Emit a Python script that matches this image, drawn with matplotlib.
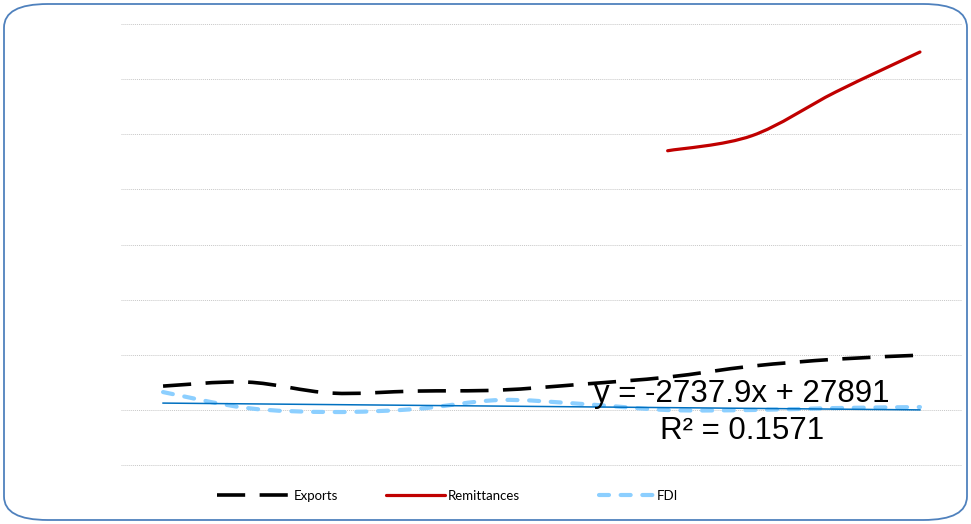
import matplotlib.pyplot as plt
import numpy as np
from matplotlib.lines import Line2D
from matplotlib.patches import FancyBboxPatch, PathPatch
from matplotlib.path import Path

periods = [1, 2, 3, 4, 5, 6, 7, 8, 9, 10]
exports = [86800, 101300, 61500, 68700, 72300, 94000, 119300, 159100, 184400, 198900]
remit_periods = [7, 8, 9, 10]
remittances = [940300, 994600, 1153700, 1298400]
fdi = [65100, 7200, -7200, 3600, 36200, 21700, 0, 0, 7200, 10800]

# linear trend on FDI as reported
slope = -2737.9
intercept = 27891
r2 = 0.1571

yticks = np.arange(-200000, 1400001, 200000)


def smooth_path(xs, ys):
    """Cubic Bezier path through the points (spreadsheet-style smoothing)."""
    pts = np.column_stack([xs, ys]).astype(float)
    n = len(pts)
    verts = [pts[0]]
    codes = [Path.MOVETO]
    for i in range(n - 1):
        p0 = pts[max(i - 1, 0)]
        p1 = pts[i]
        p2 = pts[i + 1]
        p3 = pts[min(i + 2, n - 1)]
        verts += [p1 + (p2 - p0) / 6, p2 - (p3 - p1) / 6, p2]
        codes += [Path.CURVE4] * 3
    return Path(verts, codes)


styles = {
    'Exports': dict(color='black', lw=2.6, ls=(0, (7.8, 4.0)), capstyle='butt'),
    'Remittances': dict(color='#c00000', lw=2.3, ls='-', capstyle='round'),
    'FDI': dict(color='#8ccfff', lw=3.0, ls=(0, (2.4, 2.8)), capstyle='round'),
}

fig = plt.figure(figsize=(9.71, 5.24), dpi=100)
frame = FancyBboxPatch((4 / 971, 4 / 524), 963 / 971, 516 / 524,
                       boxstyle='round,pad=0,rounding_size=0.045',
                       transform=fig.transFigure, facecolor='none',
                       edgecolor='#4f81bd', lw=1.3, zorder=-1)
fig.patches.append(frame)

ax = fig.add_axes([121 / 971, 58 / 524, 841 / 971, 442 / 524])
ax.set_facecolor('none')
ax.set_xlim(0.5, 10.5)
ax.set_ylim(yticks[0] - 3000, yticks[-1])
ax.set_yticks(yticks)
ax.set_xticks([])
ax.tick_params(left=False, labelleft=False)
for s in ax.spines.values():
    s.set_visible(False)
ax.yaxis.grid(True, color='#c8c8c8', lw=0.7, ls=(0, (1, 1)))

series = [('Exports', periods, exports), ('Remittances', remit_periods, remittances), ('FDI', periods, fdi)]
for name, xs, ys in series:
    st = styles[name]
    patch = PathPatch(smooth_path(xs, ys), fill=False, edgecolor=st['color'],
                      lw=st['lw'], linestyle=st['ls'], capstyle=st['capstyle'],
                      joinstyle='round', zorder=3)
    ax.add_patch(patch)

tx = np.array([periods[0], periods[-1]])
ax.plot(tx, slope * tx + intercept, color='#0070c0', lw=1.1, zorder=4)

ax.text(7.88, -9000, 'y = -2737.9x + 27891\nR² = 0.1571', ha='center', va='center',
        fontsize=22.5, family='Liberation Sans', linespacing=1.28, zorder=5)

# one legend per entry so the spacing can follow the original layout
legend_x = {'Exports': 0.223, 'Remittances': 0.398, 'FDI': 0.617}
handle_len = {'Exports': 5.6, 'Remittances': 4.4, 'FDI': 4.1}
for name, x0 in legend_x.items():
    st = styles[name]
    h = Line2D([], [], color=st['color'], lw=st['lw'], ls=st['ls'],
               dash_capstyle=st['capstyle'], solid_capstyle=st['capstyle'])
    leg = fig.legend([h], [name], loc='center left', bbox_to_anchor=(x0, 28 / 524),
                     frameon=False, handlelength=handle_len[name], handletextpad=0.25,
                     borderaxespad=0, borderpad=0,
                     prop={'family': 'Lato', 'size': 9.5})

plt.savefig('out.png', dpi=100)
